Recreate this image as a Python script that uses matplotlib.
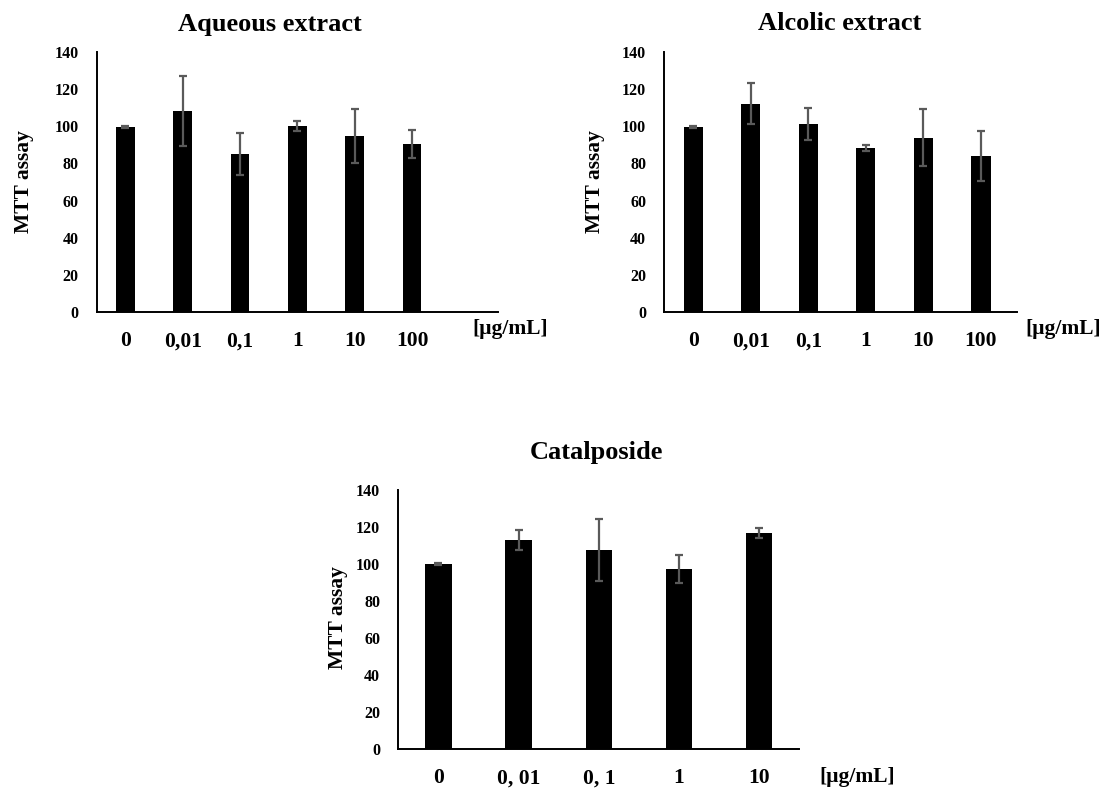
import matplotlib
matplotlib.use("Agg")
import matplotlib.pyplot as plt

# MTT assay values
aqueous_labels = ["0", "0,01", "0,1", "1", "10", "100"]
aqueous_values = [99.5, 108.3, 85.1, 100.0, 94.8, 90.5]
aqueous_err = [0.5, 18.8, 11.2, 2.7, 14.4, 7.6]

alcolic_labels = ["0", "0,01", "0,1", "1", "10", "100"]
alcolic_values = [99.8, 112.2, 101.4, 88.5, 93.9, 84.2]
alcolic_err = [0.4, 11.0, 8.8, 1.7, 15.3, 13.4]

catal_labels = ["0", "0, 01", "0, 1", "1", "10"]
catal_values = [100.0, 113.0, 107.6, 97.3, 116.8]
catal_err = [0.3, 5.5, 16.8, 7.4, 2.6]

plt.rcParams["font.family"] = ["Liberation Serif", "DejaVu Serif"]
plt.rcParams["font.weight"] = "bold"

W, H = 1111, 792


def px(x, y):
    """pixel position -> figure fraction"""
    return x / W, 1 - y / H


def draw_panel(fig, rect, labels, values, err, xmax, title, title_xy,
               ylab_xy, unit_xy):
    left, top, right, bottom = rect
    ax = fig.add_axes([left / W, 1 - bottom / H, (right - left) / W,
                       (bottom - top) / H])
    x = list(range(len(values)))
    ax.bar(x, values, width=0.33, color="black", zorder=2)
    ax.errorbar(x, values, yerr=err, fmt="none", ecolor="#5a5a5a",
                elinewidth=1.6, capsize=2.8, capthick=1.6, zorder=3)
    ax.set_xlim(-0.5, xmax)
    ax.set_ylim(0, 140)
    ax.set_yticks(range(0, 141, 20))
    ax.set_xticks(x)
    ax.set_xticklabels(labels, fontsize=15.5, fontweight="bold")
    ax.tick_params(axis="x", length=0, pad=14)
    ax.tick_params(axis="y", length=0, pad=13, labelsize=11.5)
    for t in ax.get_yticklabels():
        t.set_fontweight("bold")
    for s in ["top", "right"]:
        ax.spines[s].set_visible(False)
    for s in ["left", "bottom"]:
        ax.spines[s].set_linewidth(1.4)
        ax.spines[s].set_color("black")

    fig.text(*px(*title_xy), title, fontsize=19, fontweight="bold",
             ha="center", va="center")
    fig.text(*px(*ylab_xy), "MTT assay", fontsize=15.5, fontweight="bold",
             rotation=90, ha="center", va="center")
    fig.text(*px(*unit_xy), "[µg/mL]", fontsize=15.5, fontweight="bold",
             ha="center", va="center")
    return ax


fig = plt.figure(figsize=(W / 100, H / 100), dpi=100)

draw_panel(fig, (96.7, 52.3, 498, 311.7), aqueous_labels, aqueous_values,
           aqueous_err, 6.5, "Aqueous extract", (270, 24), (24, 182),
           (510, 329))
draw_panel(fig, (664.3, 52.3, 1016.7, 311.7), alcolic_labels,
           alcolic_values, alcolic_err, 5.62, "Alcolic extract", (840, 24),
           (595, 182), (1063, 329))
draw_panel(fig, (398.3, 490, 799.3, 749), catal_labels, catal_values,
           catal_err, 4.5, "Catalposide", (596, 452), (338, 618),
           (857, 777))

fig.savefig("out.png", dpi=100)
